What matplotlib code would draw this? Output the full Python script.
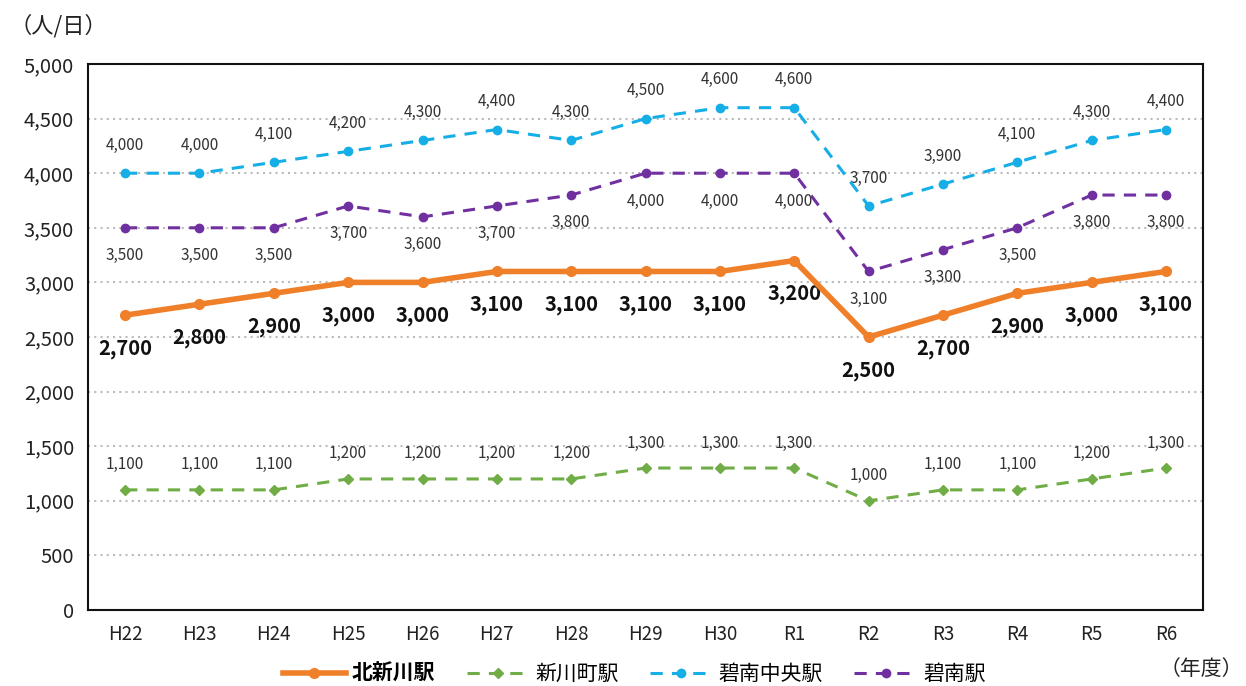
import matplotlib
matplotlib.use("Agg")
import matplotlib.pyplot as plt
from matplotlib.ticker import FuncFormatter, MultipleLocator

plt.rcParams['font.family'] = ['Noto Sans CJK JP', 'DejaVu Sans']

years = ["H22", "H23", "H24", "H25", "H26", "H27", "H28", "H29", "H30",
         "R1", "R2", "R3", "R4", "R5", "R6"]
kitashinkawa = [2700, 2800, 2900, 3000, 3000, 3100, 3100, 3100, 3100, 3200, 2500, 2700, 2900, 3000, 3100]
shinkawacho = [1100, 1100, 1100, 1200, 1200, 1200, 1200, 1300, 1300, 1300, 1000, 1100, 1100, 1200, 1300]
hekinan_chuo = [4000, 4000, 4100, 4200, 4300, 4400, 4300, 4500, 4600, 4600, 3700, 3900, 4100, 4300, 4400]
hekinan = [3500, 3500, 3500, 3700, 3600, 3700, 3800, 4000, 4000, 4000, 3100, 3300, 3500, 3800, 3800]
series_names = ["北新川駅", "新川町駅", "碧南中央駅", "碧南駅"]

c_orange = "#F07F2A"
c_green = "#70AD47"
c_blue = "#16AEE6"
c_purple = "#7030A0"

fig = plt.figure(figsize=(12.46, 6.86), dpi=100)
ax = fig.add_axes([0.0706, 0.1108, 0.895, 0.7959])

x = list(range(len(years)))
ax.plot(x, kitashinkawa, color=c_orange, lw=4, marker='o', ms=7, label=series_names[0], zorder=5)
ax.plot(x, shinkawacho, color=c_green, lw=2.2, ls=(0, (4, 3)), marker='D', ms=5, label=series_names[1], zorder=4)
ax.plot(x, hekinan_chuo, color=c_blue, lw=2.2, ls=(0, (4, 3)), marker='o', ms=6, label=series_names[2], zorder=4)
ax.plot(x, hekinan, color=c_purple, lw=2.2, ls=(0, (4, 3)), marker='o', ms=6, label=series_names[3], zorder=4)

fmt = lambda v: f"{v:,}"
for i in x:
    ax.annotate(fmt(kitashinkawa[i]), (i, kitashinkawa[i]), xytext=(0, -24), textcoords='offset points',
                ha='center', va='center', fontsize=14.5, fontweight='bold', color='#111111')
    ax.annotate(fmt(shinkawacho[i]), (i, shinkawacho[i]), xytext=(0, 18), textcoords='offset points',
                ha='center', va='center', fontsize=11, color='#333333')
    ax.annotate(fmt(hekinan_chuo[i]), (i, hekinan_chuo[i]), xytext=(0, 20), textcoords='offset points',
                ha='center', va='center', fontsize=11, color='#333333')
    ax.annotate(fmt(hekinan[i]), (i, hekinan[i]), xytext=(0, -20), textcoords='offset points',
                ha='center', va='center', fontsize=11, color='#333333')

ax.set_xlim(-0.5, len(years) - 0.5)
ax.set_ylim(0, 5000)
ax.yaxis.set_major_locator(MultipleLocator(500))
ax.yaxis.set_major_formatter(FuncFormatter(lambda v, p: f"{int(v):,}"))
ax.set_xticks(x)
ax.set_xticklabels(years)
ax.tick_params(axis='y', length=0, labelsize=14.5, colors='#222222', pad=10)
ax.tick_params(axis='x', length=0, labelsize=13.5, colors='#222222', pad=10)
ax.grid(axis='y', color='#BBBBBB', ls=(0, (1, 2)), lw=1.5)
ax.set_axisbelow(True)
for s in ax.spines.values():
    s.set_color('#111111')
    s.set_linewidth(1.5)

fig.text(0.008, 0.962, "（人/日）", fontsize=16, ha='left', va='center', color='#222222')
fig.text(0.998, 0.025, "（年度）", fontsize=15, ha='right', va='center', color='#222222')

leg = ax.legend(loc='center', bbox_to_anchor=(0.49, -0.117), ncol=4, frameon=False,
                fontsize=15, handlelength=3.0, columnspacing=1.5, handletextpad=0.3)
for t in leg.get_texts():
    if t.get_text() == series_names[0]:
        t.set_fontweight('bold')

fig.savefig("out.png", dpi=100)
